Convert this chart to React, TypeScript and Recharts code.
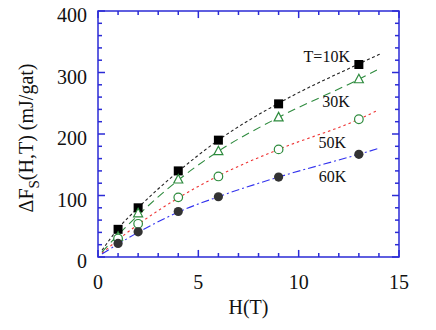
import React from 'react'
import {
  ComposedChart,
  Line,
  Scatter,
  XAxis,
  YAxis,
  Label,
  ReferenceArea,
  ReferenceLine,
} from 'recharts'

// measured points
const fields = [1, 2, 4, 6, 9, 13]
const t10 = [45, 80, 140, 190, 249, 313]
const t30 = [33, 71, 126, 172, 227, 289]
const t50 = [30, 54, 97, 131, 175, 224]
const t60 = [22, 41, 74, 98, 130, 167]

// fitted curves
const fitFields = [0.2, 1, 2, 4, 6, 9, 13]
const fit10 = [11, 46, 80, 139, 190, 250, 314]
const fit30 = [8, 36, 68, 125, 172, 227, 289]
const fit50 = [6, 28, 53, 96, 132, 175, 224]
const fit60 = [5, 21, 40, 73, 98, 130, 167]
const fitEnd = [14.05, 13.9, 13.85, 13.93]
const fitEndVals = [330, 304, 237, 176]

const xTicks = [0, 1, 2, 3, 4, 5, 6, 7, 8, 9, 10, 11, 12, 13, 14, 15]
const yTicks = [0, 20, 40, 60, 80, 100, 120, 140, 160, 180, 200, 220, 240, 260, 280, 300, 320, 340, 360, 380, 400]

const noteText = ['T=10K', '30K', '50K', '60K']
const noteH = [11.4, 11.86, 11.67, 11.69]
const noteV = [317, 244, 178, 122]

const pts = (vals: number[]) => fields.map((h, i) => ({ h, v: vals[i] }))
const fit = (vals: number[], k: number) => [
  ...fitFields.map((h, i) => ({ h, v: vals[i] })),
  { h: fitEnd[k], v: fitEndVals[k] },
]
const notes = noteText.map((text, i) => ({ h: noteH[i], v: noteV[i], text }))

// tick mark lengths, in axis units (about 7px major, 4px minor)
const xMarkLen = (h: number) => (h % 5 === 0 ? 11.5 : 6.5)
const yMarkLen = (v: number) => (v % 100 === 0 ? 0.35 : 0.2)

const XTickLabel = (p: any) => {
  const v = p.payload.value
  if (v % 5 !== 0) return <g />
  return (
    <text x={p.x} y={p.y + 31.5} textAnchor="middle" fontSize={20} fontFamily="Liberation Serif" fill="#111">
      {v}
    </text>
  )
}

const YTickLabel = (p: any) => {
  const v = p.payload.value
  if (v % 100 !== 0) return <g />
  return (
    <text x={p.x - 11} y={p.y + 11} textAnchor="end" fontSize={20} fontFamily="Liberation Serif" fill="#111">
      {v}
    </text>
  )
}

const Square = (p: any) => <rect x={p.cx - 4.5} y={p.cy - 4.5} width={9} height={9} fill="#000" />
const Triangle = (p: any) => (
  <polygon
    points={`${p.cx},${p.cy - 5} ${p.cx - 4.5},${p.cy + 3.5} ${p.cx + 4.5},${p.cy + 3.5}`}
    fill="#fff"
    stroke="#2e8b3e"
    strokeWidth={1.2}
  />
)
const OpenCircle = (p: any) => <circle cx={p.cx} cy={p.cy} r={4.3} fill="#fff" stroke="#2e8b3e" strokeWidth={1.2} />
const Dot = (p: any) => <circle cx={p.cx} cy={p.cy} r={4.6} fill="#333" />
const Note = (p: any) => (
  <text x={p.cx} y={p.cy} textAnchor="middle" fontSize={16} fontFamily="Liberation Serif" fill="#111">
    {p.payload.text}
  </text>
)

const YTitle = (props: any) => {
  const vb = props.viewBox
  const cy = vb.y + vb.height / 2 + 4
  return (
    <text
      x={33}
      y={cy}
      transform={`rotate(-90 33 ${cy})`}
      textAnchor="middle"
      fontSize={20}
      fontFamily="Liberation Serif"
      fill="#111"
    >
      ΔF
      <tspan fontSize={15} dy={6}>S</tspan>
      <tspan dy={-6}>(H,T) (mJ/gat)</tspan>
    </text>
  )
}

const XTitle = (props: any) => (
  <text
    x={props.viewBox.x + props.viewBox.width / 2}
    y={314}
    textAnchor="middle"
    fontSize={20}
    fontFamily="Liberation Serif"
    fill="#111"
  >
    H(T)
  </text>
)

export default function App() {
  return (
    <div style={{ position: 'absolute', left: 0, top: 0 }}>
      <ComposedChart width={436} height={330} margin={{ top: 11, right: 37, bottom: 0, left: 0 }}>
        <XAxis
          dataKey="h"
          type="number"
          domain={[0, 15]}
          ticks={xTicks}
          interval={0}
          height={73}
          tickSize={0}
          tickMargin={0}
          tickLine={false}
          axisLine={false}
          tick={<XTickLabel />}
        >
          <Label content={<XTitle />} />
        </XAxis>
        <YAxis
          type="number"
          domain={[0, 400]}
          ticks={yTicks}
          interval={0}
          width={98}
          tickSize={0}
          tickMargin={0}
          tickLine={false}
          axisLine={false}
          tick={<YTickLabel />}
        >
          <Label content={<YTitle />} />
        </YAxis>
        <ReferenceArea x1={0} x2={15} y1={0} y2={400} fill="none" stroke="#2b2bd6" strokeWidth={1.5} ifOverflow="visible" />

        {xTicks.map((h) => (
          <ReferenceLine key={`b${h}`} segment={[{ x: h, y: 0 }, { x: h, y: xMarkLen(h) }]} stroke="#2b2bd6" strokeWidth={1.5} ifOverflow="visible" />
        ))}
        {xTicks.map((h) => (
          <ReferenceLine key={`t${h}`} segment={[{ x: h, y: 400 }, { x: h, y: 400 - xMarkLen(h) }]} stroke="#2b2bd6" strokeWidth={1.5} ifOverflow="visible" />
        ))}
        {yTicks.map((v) => (
          <ReferenceLine key={`l${v}`} segment={[{ x: 0, y: v }, { x: yMarkLen(v), y: v }]} stroke="#2b2bd6" strokeWidth={1.5} ifOverflow="visible" />
        ))}
        {yTicks.map((v) => (
          <ReferenceLine key={`r${v}`} segment={[{ x: 15, y: v }, { x: 15 - yMarkLen(v), y: v }]} stroke="#2b2bd6" strokeWidth={1.5} ifOverflow="visible" />
        ))}

        <Line data={fit(fit10, 0)} dataKey="v" type="monotone" stroke="#222" strokeWidth={1.1} strokeDasharray="3 2.5" dot={false} isAnimationActive={false} />
        <Line data={fit(fit30, 1)} dataKey="v" type="monotone" stroke="#2e8b3e" strokeWidth={1.1} strokeDasharray="8 5" dot={false} isAnimationActive={false} />
        <Line data={fit(fit50, 2)} dataKey="v" type="monotone" stroke="#ee3333" strokeWidth={1.1} strokeDasharray="2.5 3" dot={false} isAnimationActive={false} />
        <Line data={fit(fit60, 3)} dataKey="v" type="monotone" stroke="#3333ee" strokeWidth={1.1} strokeDasharray="8 3 2 3" dot={false} isAnimationActive={false} />

        <Scatter data={pts(t10)} dataKey="v" shape={Square} isAnimationActive={false} />
        <Scatter data={pts(t30)} dataKey="v" shape={Triangle} isAnimationActive={false} />
        <Scatter data={pts(t50)} dataKey="v" shape={OpenCircle} isAnimationActive={false} />
        <Scatter data={pts(t60)} dataKey="v" shape={Dot} isAnimationActive={false} />
        <Scatter data={notes} dataKey="v" shape={Note} isAnimationActive={false} />
      </ComposedChart>
    </div>
  )
}
